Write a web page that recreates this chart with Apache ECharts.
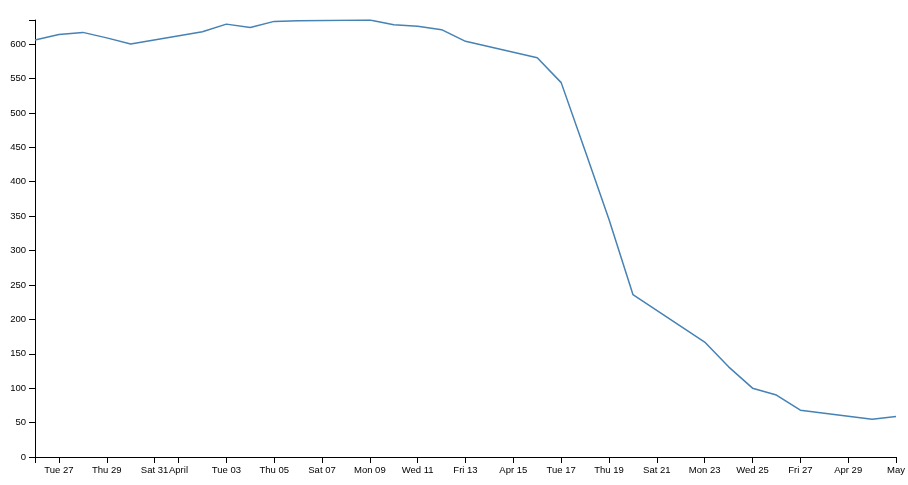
<!DOCTYPE html>
<html>
<head>
<meta charset="utf-8">
<script src="https://cdn.jsdelivr.net/npm/echarts@6/dist/echarts.min.js"></script>
<style>
html,body{margin:0;padding:0;background:#fff;}
#chart{width:908px;height:485px;}
</style>
</head>
<body>
<div id="chart"></div>
<script>
// Data (weekdays only, 2018)
var dates = [
  '2018-03-26','2018-03-27','2018-03-28','2018-03-29','2018-03-30',
  '2018-04-02','2018-04-03','2018-04-04','2018-04-05','2018-04-06',
  '2018-04-09','2018-04-10','2018-04-11','2018-04-12','2018-04-13',
  '2018-04-16','2018-04-17','2018-04-18','2018-04-19','2018-04-20',
  '2018-04-23','2018-04-24','2018-04-25','2018-04-26','2018-04-27',
  '2018-04-30','2018-05-01'
];
var values = [
  606, 614, 617, 609, 600,
  618, 629, 624, 633, 634,
  635, 628, 626, 621, 604,
  580, 544, 445, 345, 236,
  167, 131, 100, 90, 68,
  55, 59
];
// x tick dates (every 2 days plus month starts)
var tickDates = [
  '2018-03-27','2018-03-29','2018-03-31','2018-04-01','2018-04-03','2018-04-05',
  '2018-04-07','2018-04-09','2018-04-11','2018-04-13','2018-04-15','2018-04-17',
  '2018-04-19','2018-04-21','2018-04-23','2018-04-25','2018-04-27','2018-04-29',
  '2018-05-01'
];
var yTicks = [0,50,100,150,200,250,300,350,400,450,500,550,600];

function toTs(s){ var p = s.split('-'); return new Date(+p[0], +p[1]-1, +p[2]).getTime(); }
var wd = ['Sun','Mon','Tue','Wed','Thu','Fri','Sat'];
var mShort = ['Jan','Feb','Mar','Apr','May','Jun','Jul','Aug','Sep','Oct','Nov','Dec'];
var mLong = ['January','February','March','April','May','June','July','August','September','October','November','December'];
function pad(n){ return (n<10?'0':'')+n; }
function fmt(v){
  var d = new Date(v);
  if (d.getDate() === 1) return mLong[d.getMonth()];
  if (d.getDay() === 0) return mShort[d.getMonth()] + ' ' + pad(d.getDate());
  return wd[d.getDay()] + ' ' + pad(d.getDate());
}

var xMin = toTs(dates[0]);
var xMax = toTs(dates[dates.length-1]);
var tickTs = tickDates.map(toTs);
var seriesData = dates.map(function(d,i){ return [toTs(d), values[i]]; });

var chart = echarts.init(document.getElementById('chart'), null, {renderer:'canvas'});
var font = 'Liberation Sans, Arial, Helvetica, sans-serif';
chart.setOption({
  animation: false,
  grid: {left: 35, right: 11, top: 20, bottom: 28, containLabel: false},
  xAxis: {
    type: 'value',
    min: xMin,
    max: xMax,
    scale: true,
    axisLine: {show: true, onZero: false, lineStyle: {color: '#000', width: 1}},
    axisTick: {show: true, length: 6, lineStyle: {color: '#000'}, customValues: [xMin].concat(tickTs)},
    axisLabel: {
      customValues: tickTs,
      formatter: function(v){ return fmt(v); },
      color: '#000', fontSize: 9.5, fontFamily: font, margin: 8,
      showMinLabel: true, showMaxLabel: true, hideOverlap: false
    },
    splitLine: {show: false}
  },
  yAxis: {
    type: 'value',
    min: 0,
    max: 635,
    interval: 50,
    axisLine: {show: true, lineStyle: {color: '#000', width: 1}},
    axisTick: {show: true, length: 6, lineStyle: {color: '#000'}, customValues: yTicks.concat([635])},
    axisLabel: {
      customValues: yTicks,
      color: '#000', fontSize: 9.5, fontFamily: font, margin: 9
    },
    splitLine: {show: false}
  },
  series: [{
    type: 'line',
    data: seriesData,
    showSymbol: false,
    symbol: 'none',
    lineStyle: {color: '#4682b4', width: 1.5},
    itemStyle: {color: '#4682b4'}
  }]
});
</script>
</body>
</html>
